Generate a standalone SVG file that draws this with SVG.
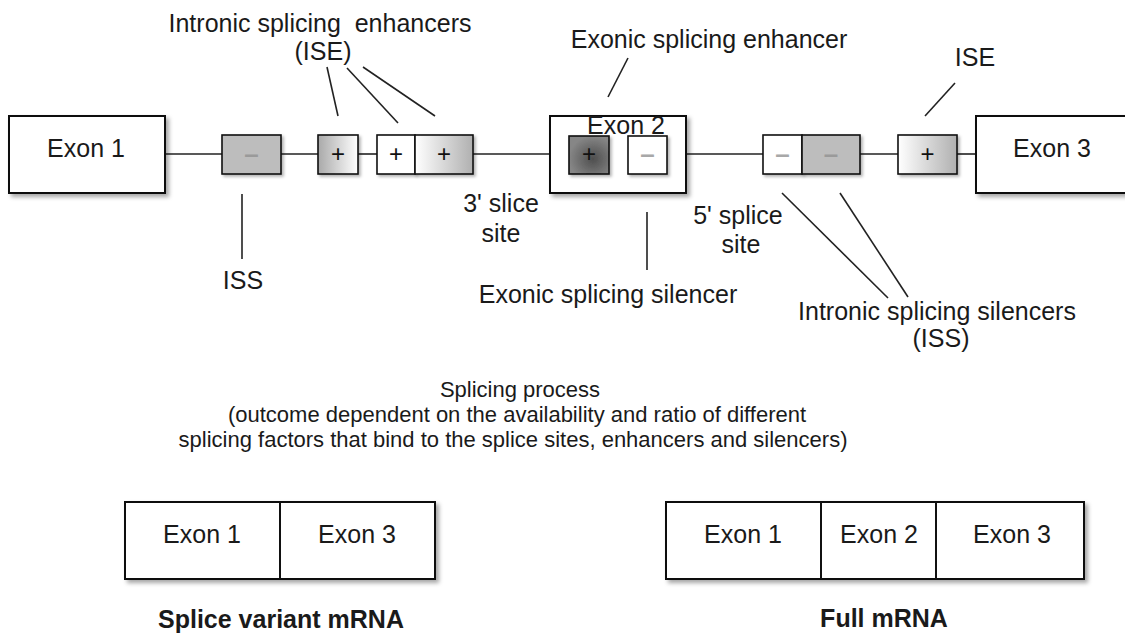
<svg xmlns="http://www.w3.org/2000/svg" width="1125" height="641" viewBox="0 0 1125 641">
<style>
  text { font-family: "Liberation Sans", Arial, sans-serif; font-size: 25px; fill: #1a1a1a; text-anchor: middle; }
  .bold { font-weight: bold; }
  .proc { font-size: 22px; }
  .box { stroke: #111; stroke-width: 2; fill: #fff; filter: url(#sh); }
  .sbox { stroke: #111; stroke-width: 1.6; filter: url(#sh2); }
  .ln { stroke: #222; stroke-width: 1.6; fill: none; }
  .plus { font-size: 24px; fill: #111; }
  .minus { font-size: 26px; fill: #a8a8a8; font-weight: bold; }
</style>
<defs>
  <filter id="sh" x="-10%" y="-10%" width="130%" height="140%">
    <feDropShadow dx="3" dy="3" stdDeviation="2" flood-color="#000" flood-opacity="0.35"/>
  </filter>
  <filter id="sh2" x="-20%" y="-20%" width="150%" height="160%">
    <feDropShadow dx="2" dy="2" stdDeviation="1.5" flood-color="#000" flood-opacity="0.3"/>
  </filter>
  <linearGradient id="gL" x1="0" y1="0" x2="1" y2="0">
    <stop offset="0" stop-color="#a9a9a9"/>
    <stop offset="1" stop-color="#ffffff"/>
  </linearGradient>
  <linearGradient id="gR" x1="0" y1="0" x2="1" y2="0">
    <stop offset="0" stop-color="#ffffff"/>
    <stop offset="1" stop-color="#b0b0b0"/>
  </linearGradient>
  <radialGradient id="gD" cx="0.6" cy="0.6" r="0.6">
    <stop offset="0" stop-color="#4e4e4e"/>
    <stop offset="1" stop-color="#868686"/>
  </radialGradient>
</defs>

<g id="connectors">
  <line class="ln" x1="165" y1="154" x2="222" y2="154"/>
  <line class="ln" x1="281" y1="154" x2="318" y2="154"/>
  <line class="ln" x1="358" y1="154" x2="377" y2="154"/>
  <line class="ln" x1="473" y1="154" x2="550" y2="154"/>
  <line class="ln" x1="686" y1="154" x2="763" y2="154"/>
  <line class="ln" x1="860" y1="154" x2="898" y2="154"/>
  <line class="ln" x1="957" y1="154" x2="976" y2="154"/>
  <line class="ln" x1="327" y1="67" x2="338" y2="116"/>
  <line class="ln" x1="347" y1="68" x2="398" y2="123"/>
  <line class="ln" x1="363" y1="67" x2="435" y2="116"/>
  <line class="ln" x1="628" y1="58" x2="608" y2="97"/>
  <line class="ln" x1="955" y1="83" x2="925" y2="116"/>
  <line class="ln" x1="242" y1="194" x2="242" y2="259"/>
  <line class="ln" x1="647" y1="212" x2="647" y2="270"/>
  <line class="ln" x1="782" y1="193" x2="888" y2="298"/>
  <line class="ln" x1="840" y1="193" x2="908" y2="297"/>
</g>

<g id="exon1">
  <rect class="box" x="9" y="116" width="156" height="77"/>
  <text x="86" y="157">Exon 1</text>
</g>

<g id="iss-left">
  <rect class="sbox" x="222" y="135" width="59" height="39" fill="#bdbdbd"/>
  <text class="minus" x="251.5" y="163" style="fill:#9a9a9a">–</text>
</g>

<g id="ise-1">
  <rect class="sbox" x="318" y="135" width="40" height="39" fill="url(#gL)"/>
  <text class="plus" x="338" y="162">+</text>
</g>

<g id="ise-2">
  <rect class="sbox" x="377" y="135" width="38" height="39" fill="#fff"/>
  <text class="plus" x="396" y="162">+</text>
</g>

<g id="ise-3">
  <rect class="sbox" x="415" y="135" width="58" height="39" fill="url(#gR)"/>
  <text class="plus" x="444" y="162">+</text>
</g>

<g id="exon2">
  <rect class="box" x="550" y="116" width="136" height="77"/>
  <rect class="sbox" x="569" y="136" width="40" height="38" fill="url(#gD)"/>
  <text class="plus" x="589" y="162">+</text>
  <rect class="sbox" x="628" y="136" width="39" height="38" fill="#fff"/>
  <text class="minus" x="647.5" y="163">–</text>
  <text x="626" y="134">Exon 2</text>
</g>

<g id="iss-right">
  <rect class="sbox" x="763" y="135" width="39" height="39" fill="#fff"/>
  <text class="minus" x="782.5" y="163">–</text>
  <rect class="sbox" x="802" y="135" width="58" height="39" fill="#bdbdbd"/>
  <text class="minus" x="831" y="163" style="fill:#9a9a9a">–</text>
</g>

<g id="ise-right">
  <rect class="sbox" x="898" y="135" width="59" height="39" fill="url(#gR)"/>
  <text class="plus" x="927.5" y="162">+</text>
</g>

<g id="exon3">
  <rect class="box" x="976" y="116" width="160" height="77"/>
  <text x="1052" y="157">Exon 3</text>
</g>

<g id="labels">
  <text x="320" y="32">Intronic splicing&#160; enhancers</text>
  <text x="323" y="60">(ISE)</text>
  <text x="709" y="48">Exonic splicing enhancer</text>
  <text x="975" y="66">ISE</text>
  <text x="501" y="212">3' slice</text>
  <text x="501" y="242">site</text>
  <text x="738" y="224">5' splice</text>
  <text x="741" y="253">site</text>
  <text x="243" y="289">ISS</text>
  <text x="608" y="303">Exonic splicing silencer</text>
  <text x="937" y="320">Intronic splicing silencers</text>
  <text x="941" y="347">(ISS)</text>
</g>

<g id="process">
  <text class="proc" x="520" y="397">Splicing process</text>
  <text class="proc" x="517" y="422">(outcome dependent on the availability and ratio of different</text>
  <text class="proc" x="513" y="447">splicing factors that bind to the splice sites, enhancers and silencers)</text>
</g>

<g id="splice-variant">
  <rect class="box" x="125" y="502" width="310" height="77"/>
  <line x1="280" y1="502" x2="280" y2="579" stroke="#111" stroke-width="2"/>
  <text x="202" y="543">Exon 1</text>
  <text x="357" y="543">Exon 3</text>
  <text class="bold" x="281" y="628">Splice variant mRNA</text>
</g>

<g id="full-mrna">
  <rect class="box" x="666" y="502" width="418" height="77"/>
  <line x1="821" y1="502" x2="821" y2="579" stroke="#111" stroke-width="2"/>
  <line x1="936" y1="502" x2="936" y2="579" stroke="#111" stroke-width="2"/>
  <text x="743" y="543">Exon 1</text>
  <text x="879" y="543">Exon 2</text>
  <text x="1012" y="543">Exon 3</text>
  <text class="bold" x="884" y="627">Full mRNA</text>
</g>
</svg>
